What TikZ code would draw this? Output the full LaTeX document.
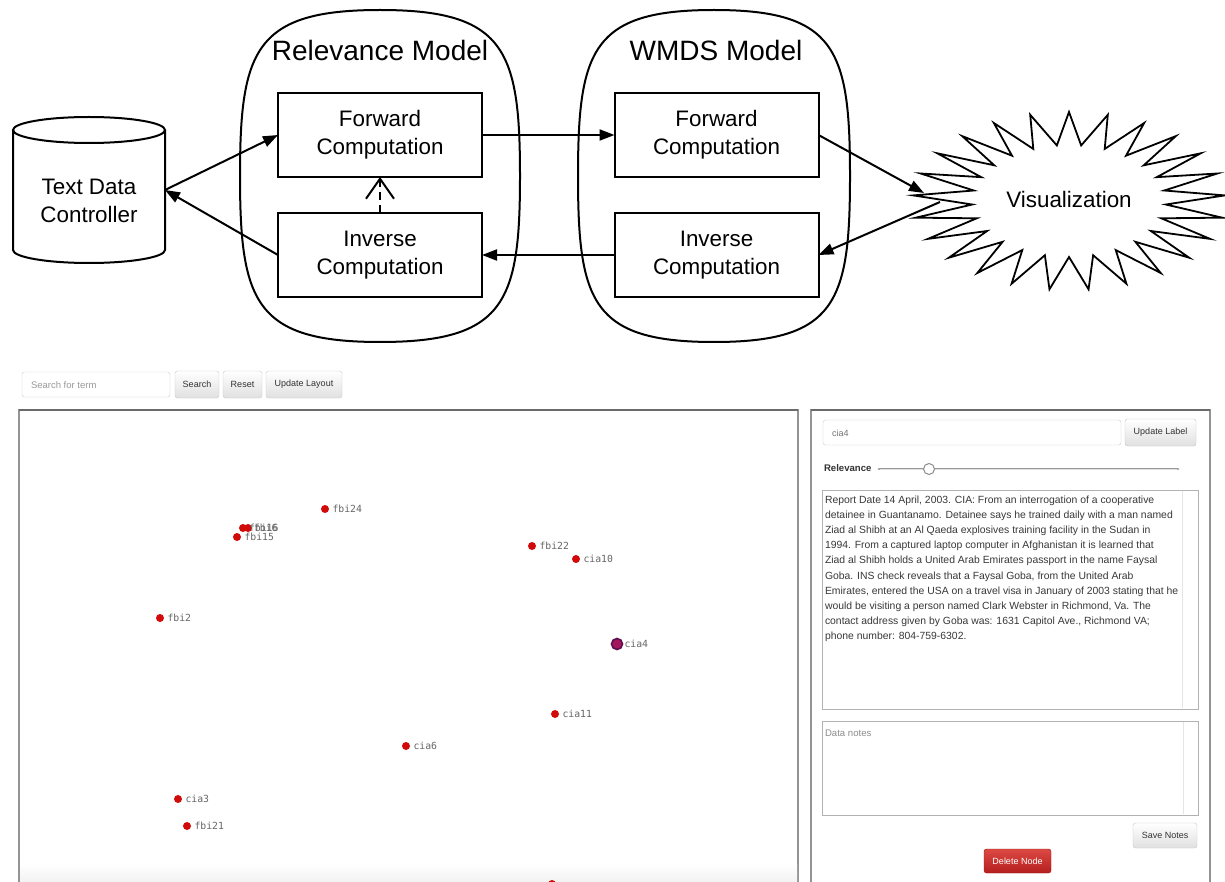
\documentclass[tikz,border=0pt]{standalone}
\usepackage{fontspec}
\setmainfont{Liberation Sans}
\newfontfamily\monofont{DejaVu Sans Mono}
\usetikzlibrary{arrows.meta}

\definecolor{dotred}{HTML}{D10A0A}
\definecolor{selfill}{HTML}{A3165E}
\definecolor{selring}{HTML}{5E0F4E}
\definecolor{dangertop}{HTML}{DC4A44}
\definecolor{dangerbot}{HTML}{B51E1E}
\definecolor{dangerline}{HTML}{9E1717}

\begin{document}
\begin{tikzpicture}[x=1pt,y=-1pt,
  every node/.style={inner sep=0pt, outer sep=0pt},
  flow/.style={line width=2pt, -{Triangle[length=15pt,width=11pt]}},
  compbox/.style={draw, line width=2pt, minimum width=204pt, minimum height=84pt,
    align=center, font=\fontsize{22.4}{28}\selectfont},
  model/.style={line width=2pt},
  modeltitle/.style={font=\fontsize{28}{32}\selectfont},
  uibtn/.style={draw=black!22, rounded corners=2.5pt, top color=white,
    bottom color=black!12, text=black!80, font=\fontsize{9}{10}\selectfont},
  field/.style={draw=black!20, rounded corners=2.5pt, fill=white},
  ptdot/.style={circle, fill=dotred, minimum size=8pt},
  ptlab/.style={anchor=west, font=\monofont\fontsize{9.8}{11}\selectfont, text=black!60},
  report/.style={anchor=base west, font=\fontsize{10.4}{12}\selectfont, text=black!78},
]
\useasboundingbox (0,0) rectangle (1225,882);
\clip (0,0) rectangle (1225,882);

% ---------------- pipeline ----------------
% model containers
\draw[model] (380,10) .. controls (255,10) and (240,50) .. (240,176)
  .. controls (240,302) and (255,342) .. (380,342)
  .. controls (505,342) and (520,302) .. (520,176)
  .. controls (520,50) and (505,10) .. (380,10) -- cycle;
\draw[model] (714,10) .. controls (592,10) and (578,50) .. (578,176)
  .. controls (578,302) and (592,342) .. (714,342)
  .. controls (836,342) and (850,302) .. (850,176)
  .. controls (850,50) and (836,10) .. (714,10) -- cycle;
\node[modeltitle] (reltitle) at (380,50) {Relevance Model};
\node[modeltitle] (wmdstitle) at (716,50) {WMDS Model};

% computation steps
\node[compbox] (rfwd) at (380,135) {Forward\\Computation};
\node[compbox] (rinv) at (380,255) {Inverse\\Computation};
\node[compbox] (wfwd) at (716.5,135) {Forward\\Computation};
\node[compbox] (winv) at (716.5,255) {Inverse\\Computation};

% data store
\node[minimum width=152pt, minimum height=146pt] (tdc) at (89,190) {};
\draw[line width=2pt, fill=white] (13,130) -- (13,250)
  arc[start angle=180, end angle=0, x radius=76, y radius=13] -- (165,130);
\draw[line width=2pt] (89,130) ellipse [x radius=76, y radius=13];
\node[align=center, font=\fontsize{22.4}{28}\selectfont] (tdctext) at (89,201) {Text Data\\Controller};

% visualization burst
\draw[line width=1.8pt, line join=miter, miter limit=12, fill=white]
  plot[variable=\k, samples at={0,...,49}]
  ({1069+ifthenelse(mod(\k,2)==0,156,97)*cos(270+\k*7.2)},
   {201+ifthenelse(mod(\k,2)==0,89,56)*sin(270+\k*7.2)}) -- cycle;
\node[font=\fontsize{22.4}{28}\selectfont] (vis) at (1069,199) {Visualization};
\coordinate (visin) at (924,193);
\coordinate (visout) at (940,202);

% connectors
\draw[flow] (tdc.east) -- (rfwd.west);
\draw[flow] (rinv.west) -- (tdc.east);
\draw[flow] (rfwd.east) -- (wfwd.west);
\draw[flow] (winv.west) -- (rinv.east);
\draw[flow] (wfwd.east) -- (visin);
\draw[flow] (visout) -- (winv.east);
\draw[line width=2pt, dash pattern=on 8pt off 5pt,
  -{Straight Barb[length=20pt,width=28pt]}] (rinv.north) -- (rfwd.south);

% ---------------- interface ----------------
% toolbar
\node[field, minimum width=148pt, minimum height=25pt] (searchbox) at (96,384.5) {};
\node[anchor=west, font=\fontsize{9.5}{11}\selectfont, text=black!40] (searchhint) at (31,385) {Search for term};
\node[uibtn, minimum width=44pt, minimum height=27pt] (bsearch) at (197,384.5) {Search};
\node[uibtn, minimum width=39pt, minimum height=27pt] (breset) at (242.5,384.5) {Reset};
\node[uibtn, minimum width=76pt, minimum height=27pt] (bupdate) at (304,384.5) {Update Layout};

% projection panel
\draw[black!42, line width=1.6pt, fill=white] (19,410) rectangle (798,900);
\draw[black!58, line width=2.2pt] (19,410) -- (798,410);
\shade[top color=white, bottom color=black!5] (20,864) rectangle (797,882);

\foreach \n/\x/\y in {fbi24/325/509, fbi15/237/537, fbi22/532/546, cia10/576/559,
    fbi2/160/618, cia11/555/714, cia6/406/746, cia3/178/799, fbi21/187/826} {
  \node[ptdot] (\n) at (\x,\y) {};
  \node[ptlab] (\n-lab) at ([xshift=3.5pt]\n.east) {\n};
}
\node[ptdot] (fbi16) at (243,528) {};
\node[ptdot] (fbi6) at (248,528) {};
\node[ptlab] (fbi16-lab) at ([xshift=2pt]fbi16.east) {fbi16};
\node[ptlab] (fbi6-lab) at ([xshift=2pt]fbi6.east) {fbi6};
\node[ptdot] (edgept) at (552,884) {};
\node[circle, fill=selfill, draw=selring, line width=1.6pt, minimum size=11pt] (cia4) at (617,644) {};
\node[ptlab] (cia4-lab) at ([xshift=2pt]cia4.east) {cia4};

% detail panel
\draw[black!42, line width=1.6pt, fill=white] (811,410) rectangle (1210,900);
\draw[black!58, line width=2.2pt] (811,410) -- (1210,410);
\node[field, minimum width=298pt, minimum height=25pt] (labelbox) at (972,432.5) {};
\node[anchor=west, font=\fontsize{9}{10}\selectfont, text=black!55] (labeltext) at (832,433) {cia4};
\node[uibtn, minimum width=71pt, minimum height=27pt] (bupdlabel) at (1160.5,432.5) {Update Label};

\node[anchor=west, font=\bfseries\fontsize{9.6}{11}\selectfont, text=black!80] (rellabel) at (824,468) {Relevance};
\draw[black!40, line width=2.8pt, line cap=round] (879,469) -- (1178,469);
\draw[black!12, line width=1pt, line cap=round] (880,469) -- (1177,469);
\node[circle, draw=black!45, line width=1pt, fill=white, minimum size=11pt] (knob) at (929,469) {};

\draw[black!30, line width=1pt, fill=white] (822,490) rectangle (1198,709);
\draw[black!10, line width=1pt] (1182,491) -- (1182,708);
\foreach \t [count=\i from 0] in {
  {Report Date 14 April, 2003. CIA: From an interrogation of a cooperative},
  {detainee in Guantanamo. Detainee says he trained daily with a man named},
  {Ziad al Shibh at an Al Qaeda explosives training facility in the Sudan in},
  {1994. From a captured laptop computer in Afghanistan it is learned that},
  {Ziad al Shibh holds a United Arab Emirates passport in the name Faysal},
  {Goba. INS check reveals that a Faysal Goba, from the United Arab},
  {Emirates, entered the USA on a travel visa in January of 2003 stating that he},
  {would be visiting a person named Clark Webster in Richmond, Va. The},
  {contact address given by Goba was: 1631 Capitol Ave., Richmond VA;},
  {phone number: 804-759-6302.}} {
  \node[report] (rep\i) at (825,503+15.2*\i) {\t};
}

\draw[black!30, line width=1pt, fill=white] (822,721) rectangle (1198,815);
\draw[black!10, line width=1pt] (1183,722) -- (1183,814);
\node[anchor=west, font=\fontsize{9.6}{11}\selectfont, text=black!45] (notehint) at (825,733) {Data notes};

\node[uibtn, minimum width=64pt, minimum height=25pt] (bsave) at (1165,835.5) {Save Notes};
\node[draw=dangerline, rounded corners=2.5pt, top color=dangertop, bottom color=dangerbot,
  text=white, font=\fontsize{9}{10}\selectfont, minimum width=67pt, minimum height=24pt]
  (bdelete) at (1017.5,861) {Delete Node};
\end{tikzpicture}
\end{document}
